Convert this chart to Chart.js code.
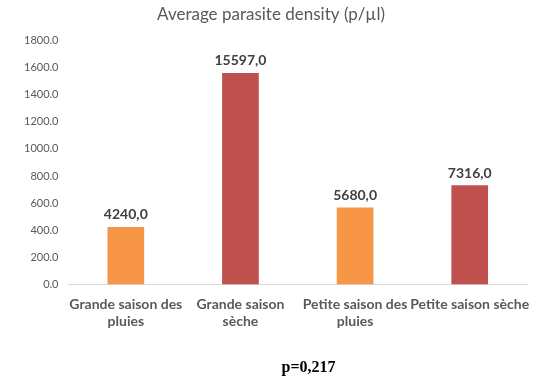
<!DOCTYPE html>
<html><head><meta charset="utf-8">
<script src="https://cdn.jsdelivr.net/npm/chart.js@4"></script>
<style>
html,body{margin:0;padding:0;background:#fff;}
#wrap{position:relative;width:543px;height:381px;}
#p{position:absolute;left:0;width:543px;top:358px;text-align:center;font:bold 16px "Liberation Serif",serif;color:#000;padding-left:74px;box-sizing:border-box;}
</style>
</head><body>
<div id="wrap"><canvas id="c" width="543" height="381"></canvas><div id="p">p=0,217</div></div>
<script>
const categories = [['Grande saison des','pluies'], ['Grande saison','sèche'], ['Petite saison des','pluies'], ['Petite saison sèche']];
const values = [424.0, 1559.7, 568.0, 731.6];
const valueLabels = ['4240,0', '15597,0', '5680,0', '7316,0'];
const barColors = ['#F79646', '#C0504D', '#F79646', '#C0504D'];
const yTicks = {min: 0, max: 1800, step: 200};

const labelPlugin = {
  id: 'vlabels',
  afterDatasetsDraw(chart) {
    const ctx = chart.ctx;
    const meta = chart.getDatasetMeta(0);
    ctx.save();
    ctx.font = 'bold 14px Lato, "Open Sans", sans-serif';
    ctx.fillStyle = '#404040';
    ctx.textAlign = 'center';
    ctx.textBaseline = 'bottom';
    meta.data.forEach((el, i) => {
      ctx.fillText(valueLabels[i], el.x, el.y - 5);
    });
    ctx.restore();
  }
};

new Chart(document.getElementById('c'), {
  type: 'bar',
  data: {
    labels: categories,
    datasets: [{ data: values, backgroundColor: barColors, categoryPercentage: 1, barPercentage: 0.32 }]
  },
  options: {
    responsive: false,
    animation: false,
    layout: { padding: { left: 14, right: 15, top: 0, bottom: 39 } },
    plugins: {
      legend: { display: false },
      tooltip: { enabled: false },
      title: {
        display: true,
        text: 'Average parasite density (p/µl)',
        color: '#595959',
        font: { family: 'Lato, "Open Sans", sans-serif', size: 17, weight: 'normal' },
        padding: { top: 4, bottom: 16 }
      }
    },
    scales: {
      x: {
        grid: { display: false, drawTicks: false },
        border: { display: true, color: '#D9D9D9', width: 1 },
        ticks: {
          color: '#595959',
          font: { family: 'Lato, "Open Sans", sans-serif', size: 14, weight: 'bold' },
          maxRotation: 0, autoSkip: false, padding: 12
        }
      },
      y: {
        min: yTicks.min, max: yTicks.max,
        grid: { display: false, drawTicks: false },
        border: { display: false },
        ticks: {
          stepSize: yTicks.step,
          color: '#595959',
          font: { family: 'Lato, "Open Sans", sans-serif', size: 11 },
          padding: 10,
          callback: v => v.toFixed(1)
        }
      }
    }
  },
  plugins: [labelPlugin]
});
</script>
</body></html>
